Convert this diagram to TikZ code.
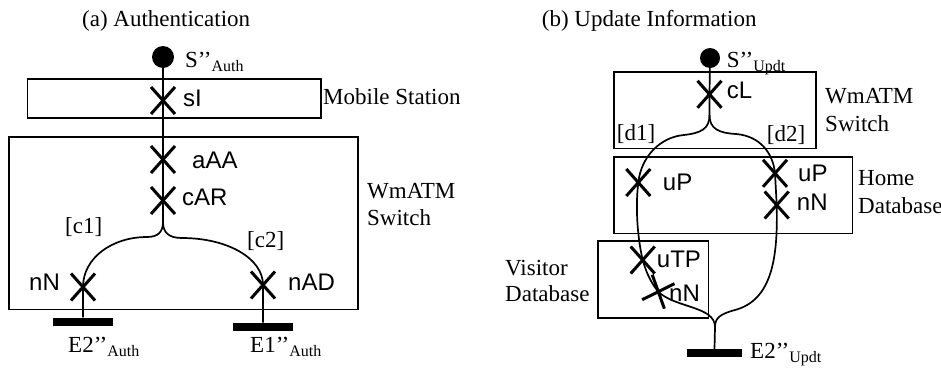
\documentclass[tikz,border=0pt]{standalone}
\usepackage{fontspec}
\setmainfont{Liberation Serif}
\setsansfont{Liberation Sans}
\usetikzlibrary{shapes.misc}
\begin{document}
\begin{tikzpicture}[x=1pt,y=-1pt,
  boxst/.style={draw,line width=1.6pt},
  wire/.style={line width=1.7pt},
  xmark/.style={cross out,draw,line width=3pt,minimum width=21pt,minimum height=24pt,inner sep=0pt},
  startdot/.style={circle,fill,inner sep=0pt,minimum size=#1},
  endbar/.style={fill,inner sep=0pt,minimum width=#1,minimum height=8pt},
  lab/.style={anchor=base west,inner sep=0pt,font=\fontsize{23}{27}\selectfont},
  slab/.style={anchor=base west,inner sep=0pt,font=\sffamily\fontsize{24}{28}\selectfont}
]
\useasboundingbox (0,0) rectangle (941,367);
\newcommand{\sub}[1]{\raisebox{-4pt}{\fontsize{16}{16}\selectfont #1}}

% ---------------- (a) ----------------
\node[lab] (ta) at (82,26) {(a) Authentication};
\node[boxst,minimum width=293.7pt,minimum height=38.7pt,inner sep=0pt] (ms) at (174.2,98.4) {};
\node[boxst,minimum width=349pt,minimum height=172.6pt,inner sep=0pt] (swa) at (183.5,223) {};
\node[startdot=22pt] (Sa) at (163,57) {};
\node[xmark] (sI) at (163,100.5) {};
\node[xmark] (aAA) at (163,159.5) {};
\node[xmark] (cAR) at (163,200.5) {};
\node[xmark] (nNa) at (83,287) {};
\node[xmark] (nAD) at (263,285) {};
\node[endbar=60pt] (E2a) at (82.5,321.5) {};
\node[endbar=60pt] (E1a) at (263,326.7) {};
\coordinate (fa) at (163,222);

\draw[wire] (Sa.center) -- (sI.center) -- (aAA.center) -- (cAR.center) -- (fa);
\draw[wire] (fa) .. controls (163,232) and (158,237) .. (147,237)
  .. controls (112,237) and (83,258) .. (nNa.center) -- (nNa.center |- E2a.north);
\draw[wire] (fa) .. controls (163,232) and (168,238) .. (182,238)
  .. controls (227,238) and (263,258) .. (nAD.center) -- (nAD.center |- E1a.north);

\node[lab] (Sal) at (185,67) {S’’\sub{Auth}};
\node[lab] (msl) at (323,104) {Mobile Station};
\node[slab] (sIl) at (183,106) {sI};
\node[slab] (aAAl) at (192,168) {aAA};
\node[slab] (cARl) at (182,205.5) {cAR};
\node[lab] (c1) at (65,233) {[c1]};
\node[lab] (c2) at (247,247) {[c2]};
\node[lab] (swal1) at (367,198) {WmATM};
\node[lab] (swal2) at (367,225) {Switch};
\node[slab] (nNal) at (29,290) {nN};
\node[slab] (nADl) at (288,290) {nAD};
\node[lab] (E2al) at (68,352) {E2’’\sub{Auth}};
\node[lab] (E1al) at (250,352) {E1’’\sub{Auth}};

% ---------------- (b) ----------------
\node[lab] (tb) at (541.7,26) {(b) Update Information};
\node[boxst,minimum width=201.7pt,minimum height=76.6pt,inner sep=0pt] (swb) at (714.85,110) {};
\node[boxst,minimum width=238.3pt,minimum height=76.6pt,inner sep=0pt] (hdb) at (733.15,195) {};
\node[boxst,minimum width=110.6pt,minimum height=76.7pt,inner sep=0pt] (vdb) at (653,279.35) {};
\node[startdot=20pt] (Sb) at (710,58) {};
\node[xmark] (cL) at (709.5,94.3) {};
\node[xmark] (uPl) at (638.3,182.5) {};
\node[xmark] (uPr) at (775,173.3) {};
\node[xmark] (nNh) at (776.7,205) {};
\node[xmark] (uTP) at (642.7,260) {};
\node[xmark,rotate=-22] (nNv) at (658.3,291.7) {};
\node[endbar=54.4pt] (E2b) at (714.5,353) {};
\coordinate (fb) at (709.5,115);
\coordinate (gb) at (715,327);

\draw[wire] (Sb.center) -- (cL.center) -- (fb);
\draw[wire] (fb) .. controls (709.5,129) and (701,133) .. (684,135)
  .. controls (660,137) and (641,157) .. (uPl.center)
  .. controls (635,210) and (638,240) .. (uTP.center)
  .. controls (646,272) and (651,283) .. (nNv.center)
  .. controls (675,308) and (715,306) .. (gb);
\draw[wire] (fb) .. controls (709.5,129) and (719,133) .. (736,134)
  .. controls (760,136) and (773,153) .. (uPr.center) -- (nNh.center)
  .. controls (778,258) and (772,300) .. (735,310)
  .. controls (720,314) and (715,318) .. (gb);
\draw[wire] (gb) -- (E2b.north);

\node[lab] (Sbl) at (726.7,67.7) {S’’\sub{Updt}};
\node[slab] (cLl) at (726.7,98.3) {cL};
\node[lab] (d1) at (616.7,140) {[d1]};
\node[lab] (d2) at (766.7,141.7) {[d2]};
\node[lab] (swbl1) at (825,103.3) {WmATM};
\node[lab] (swbl2) at (825,131.7) {Switch};
\node[lab] (hdl1) at (858,185) {Home};
\node[lab] (hdl2) at (858,213.3) {Database};
\node[slab] (uPll) at (662.7,190) {uP};
\node[slab] (uPrl) at (798,181.7) {uP};
\node[slab] (nNhl) at (796.7,210) {nN};
\node[lab] (vdl1) at (505,275) {Visitor};
\node[lab] (vdl2) at (505,301.7) {Database};
\node[slab] (uTPl) at (656.7,267.3) {uTP};
\node[slab] (nNvl) at (669,301.7) {nN};
\node[lab] (E2bl) at (750,358.3) {E2’’\sub{Updt}};
\end{tikzpicture}
\end{document}
